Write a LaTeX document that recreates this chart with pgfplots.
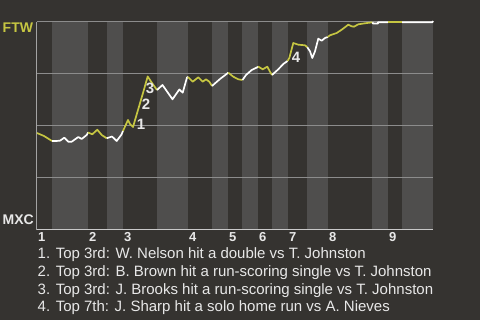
\documentclass[border=0pt]{standalone}
\usepackage{fontspec}
\setmainfont{Liberation Sans}
\usepackage{pgfplots}
\pgfplotsset{compat=1.18}
\definecolor{bg}{RGB}{53,51,48}
\definecolor{band}{RGB}{79,78,77}
\definecolor{gridc}{RGB}{140,140,140}
\definecolor{axc}{RGB}{200,200,200}
\definecolor{yel}{RGB}{198,198,66}
\definecolor{txt}{RGB}{232,232,232}
\begin{document}
\begin{tikzpicture}[x=1pt,y=1pt]
\useasboundingbox (0,0) rectangle (480,320);
\fill[bg] (0,0) rectangle (480,320);
\begin{axis}[
  at={(37pt,90pt)}, anchor=south west,
  width=396pt, height=208pt, scale only axis,
  xmin=0, xmax=396, ymin=0, ymax=100,
  axis lines=none, clip=false,
  xtick=\empty, ytick=\empty,
]
% half-inning bands (bottom halves)
\fill[band] (axis cs:15,0) rectangle (axis cs:51,100);
\fill[band] (axis cs:70,0) rectangle (axis cs:86,100);
\fill[band] (axis cs:120,0) rectangle (axis cs:151,100);
\fill[band] (axis cs:175,0) rectangle (axis cs:191,100);
\fill[band] (axis cs:205,0) rectangle (axis cs:221,100);
\fill[band] (axis cs:235,0) rectangle (axis cs:251,100);
\fill[band] (axis cs:270,0) rectangle (axis cs:291,100);
\fill[band] (axis cs:335,0) rectangle (axis cs:351,100);
\fill[band] (axis cs:365,0) rectangle (axis cs:396,100);
% grid
\draw[gridc, line width=1pt] (axis cs:0,25) -- (axis cs:396,25);
\draw[gridc, line width=1pt] (axis cs:0,50) -- (axis cs:396,50);
\draw[gridc, line width=1pt] (axis cs:0,75) -- (axis cs:396,75);
\draw[gridc, line width=1pt] (axis cs:0,100) -- (axis cs:396,100);
\draw[gridc!80!white, line width=1pt] (axis cs:0,0) -- (axis cs:0,100);
\draw[axc, line width=1pt] (axis cs:0,0) -- (axis cs:396,0);
% win probability line
\pgfplotsset{every axis plot/.append style={line width=1.7pt, line join=round}}
\addplot[yel] coordinates {(0,46.63)(7,45.19)(15,42.79)};
\addplot[white] coordinates {(15,42.79)(19,42.79)(23,42.93)(27.3,44.38)(31.3,42.45)(34.7,42.45)(41.3,44.71)(44.7,43.75)(49.7,45.67)(51,46.88)};
\addplot[yel] coordinates {(51,46.88)(55.3,46.01)(60.3,48.22)(64.7,45.67)(69.7,44.09)};
\addplot[white] coordinates {(69.7,44.09)(75,44.95)(79.7,42.79)(84.5,45.91)(86,47.60)};
\addplot[yel] coordinates {(86,47.60)(91,52.88)(93,50.96)(96,49.52)(101,57.69)(106,65.87)(110.7,73.80)(115,70.67)(120,67.31)};
\addplot[white] coordinates {(120,67.31)(125.5,69.71)(135.5,62.84)(142.3,67.55)(145.7,66.01)(150,73.32)(151,73.56)};
\addplot[yel] coordinates {(151,73.56)(155.7,71.30)(161.3,73.41)(165.7,71.30)(169,72.45)(172.3,71.30)(175,69.23)};
\addplot[white] coordinates {(175,69.23)(183,72.60)(191.3,75.63)};
\addplot[yel] coordinates {(191.3,75.63)(196.3,73.70)(201.3,72.45)(205.5,72.12)};
\addplot[white] coordinates {(205.5,72.12)(209,74.52)(214.7,76.92)(220.3,78.22)(221,78.61)};
\addplot[yel] coordinates {(221,78.61)(225.7,77.26)(230.3,78.51)(233,76.11)(235,74.52)};
\addplot[white] coordinates {(235,74.52)(241.3,77.26)(246.3,79.81)(250.5,81.25)};
\addplot[yel] coordinates {(250.5,81.25)(252.3,82.69)(256.3,89.90)(261.3,89.09)(268,88.80)(270.3,87.84)};
\addplot[white] coordinates {(270.3,87.84)(273,85.91)(275.3,82.69)(278,85.91)(281.3,91.97)(284.7,91.01)(288,92.31)(290.7,92.79)};
\addplot[yel] coordinates {(290.7,92.79)(293,93.61)(299.7,94.71)(304.7,96.30)(311.3,98.70)(314.7,97.93)(317,97.74)(321.3,98.89)(328,99.38)(335.5,99.86)};
\addplot[white] coordinates {(335.5,99.86)(336,99.28)(341,99.28)(341,99.9)(351,99.9)};
\addplot[yel] coordinates {(351,99.9)(365,99.9)};
\addplot[white] coordinates {(365,99.9)(395.5,99.9)(396,100.5)};
% event labels
\node[text=txt, font=\bfseries\fontsize{15}{15}\selectfont] at (axis cs:104,50.96) {1};
\node[text=txt, font=\bfseries\fontsize{15}{15}\selectfont] at (axis cs:109,60.34) {2};
\node[text=txt, font=\bfseries\fontsize{15}{15}\selectfont] at (axis cs:113,68.03) {3};
\node[text=txt, font=\bfseries\fontsize{15}{15}\selectfont] at (axis cs:259,83.17) {4};
% inning labels
\foreach \xx/\lab in {0/1,51/2,86/3,151/4,191/5,221/6,251/7,291/8,351/9}{
  \edef\tmp{\noexpand\node[anchor=base west, inner sep=0pt, text=txt, font=\noexpand\bfseries\noexpand\fontsize{13}{13}\noexpand\selectfont] at (axis cs:\xx,0) [yshift=-12pt, xshift=1pt] {\lab};}
  \tmp
}
\end{axis}
\node[anchor=base west, inner sep=0pt, text=yel, font=\bfseries\fontsize{14}{14}\selectfont] at (2.5,287) {FTW};
\node[anchor=base west, inner sep=0pt, text=txt, font=\bfseries\fontsize{14}{14}\selectfont] at (2.5,95) {MXC};
\begin{scope}[every node/.style={anchor=base west, inner sep=0pt, text=txt, font=\fontsize{15}{15}\selectfont}]
\node at (37.5,61.7) {1. Top 3rd: W. Nelson hit a double vs T. Johnston};
\node at (37.5,43.5) {2. Top 3rd: B. Brown hit a run-scoring single vs T. Johnston};
\node at (37.5,25.6) {3. Top 3rd: J. Brooks hit a run-scoring single vs T. Johnston};
\node at (37.5,8) {4. Top 7th: J. Sharp hit a solo home run vs A. Nieves};
\end{scope}
\end{tikzpicture}
\end{document}
